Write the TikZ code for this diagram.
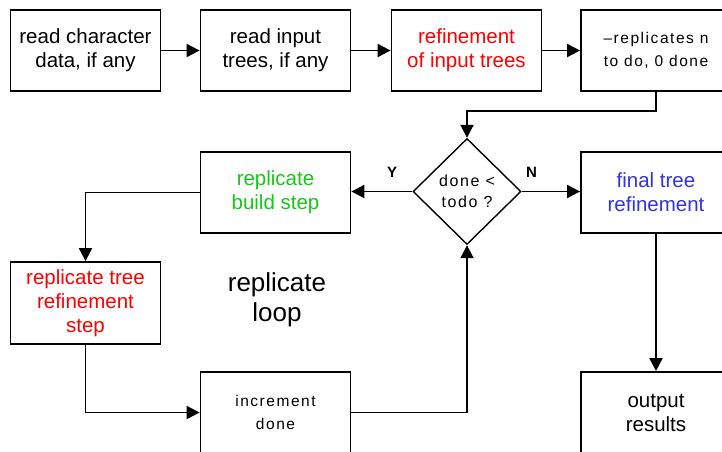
\documentclass[tikz,border=0pt]{standalone}
\usepackage{fontspec}
\setmainfont{Liberation Sans}
\newfontfamily\spacedfont{Liberation Sans}[LetterSpace=10]
\usetikzlibrary{arrows.meta, shapes.geometric}
\definecolor{refred}{RGB}{255,0,0}
\definecolor{buildgreen}{RGB}{20,200,20}
\definecolor{finalblue}{RGB}{50,50,230}

\begin{document}
\begin{tikzpicture}[x=1pt, y=-1pt,
  box/.style={draw, line width=1.8pt, minimum width=150pt, minimum height=81pt,
    align=center, inner sep=2pt, font=\fontsize{20.5}{24}\selectfont},
  smallbox/.style={box, font=\spacedfont\fontsize{15.5}{22.5}\selectfont},
  test/.style={draw, diamond, line width=1.4pt, minimum width=108pt, minimum height=106pt,
    inner sep=-6pt, align=center, font=\spacedfont\fontsize{16}{21}\selectfont},
  arr/.style={-{Triangle[length=13pt, width=13pt]}, line width=1.9pt},
  yn/.style={font=\bfseries\fontsize{15}{15}\selectfont}
]
  \useasboundingbox (0,0) rectangle (722,451);
  \clip (0,0) rectangle (722,451);

  % top row
  \node[box] (chars) at (85.5,50.5) {read character\\data, if any};
  \node[box] (trees) at (275.5,50.5) {read input\\trees, if any};
  \node[box, text=refred] (refin) at (466.5,50.5) {refinement\\of input trees};
  \node[smallbox] (reps) at (656,50.5) {\textendash replicates n\\to do, 0 done};

  % the loop
  \node[test] (test) at (467,191.5) {done <\\todo ?};
  \node[box, text=buildgreen] (build) at (275.5,192.5) {replicate\\build step};
  \node[box, text=refred, minimum height=82pt] (rstep) at (85.5,303) {replicate tree\\refinement\\step};
  \node[smallbox] (incr) at (275.5,412.5) {increment\\done};
  \node[font=\fontsize{26}{30}\selectfont, align=center] (loop) at (277,300) {replicate\\loop};

  % exit
  \node[box, text=finalblue] (final) at (656,192.5) {final tree\\refinement};
  \node[box] (output) at (656,412.5) {output\\results};

  \draw[arr] (chars) -- (trees);
  \draw[arr] (trees) -- (refin);
  \draw[arr] (refin) -- (reps);
  \draw[arr] (reps.south) -- ++(0,19) -| (test.north);
  \draw[arr] (test.west) -- node[yn, pos=0.33, above=10pt] {Y} (test.west -| build.east);
  \draw[arr] (test.east) -- node[yn, pos=0.17, above=10pt] {N} (test.east -| final.west);
  \draw[arr] (build.west) -| (rstep.north);
  \draw[arr] (rstep.south) |- (incr.west);
  \draw[arr] (incr.east) -| (test.south);
  \draw[arr] (final) -- (output);
\end{tikzpicture}
\end{document}
